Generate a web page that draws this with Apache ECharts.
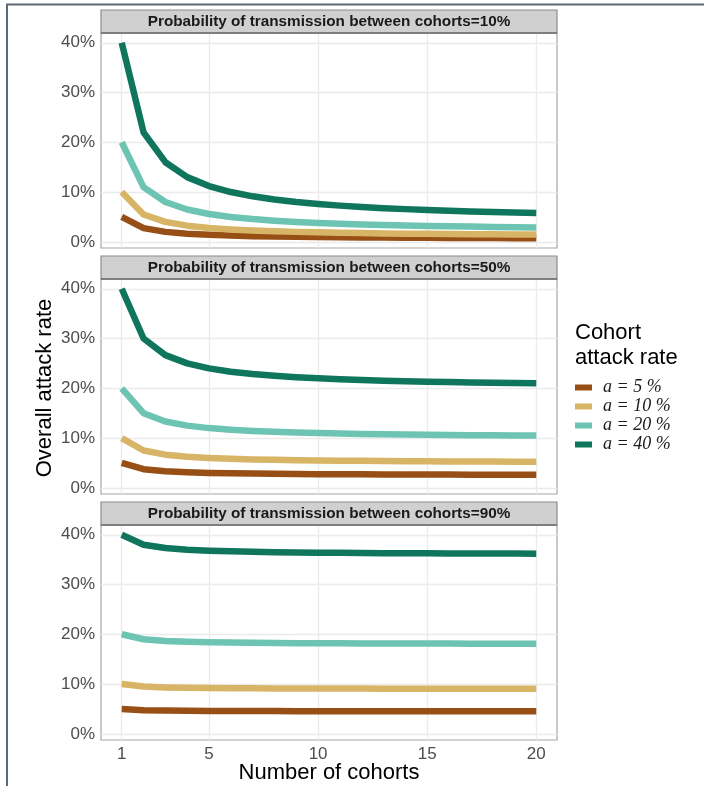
<!DOCTYPE html>
<html>
<head>
<meta charset="utf-8">
<script src="https://cdn.jsdelivr.net/npm/echarts@6/dist/echarts.min.js"></script>
<style>
  html, body { margin: 0; padding: 0; background: #ffffff; }
  #chart { width: 704px; height: 786px; }
</style>
</head>
<body>
<div id="chart"></div>
<script>
// Number of cohorts (x values)
const cohorts = [1, 2, 3, 4, 5, 6, 7, 8, 9, 10, 11, 12, 13, 14, 15, 16, 17, 18, 19, 20];

// Panel titles: probability of transmission between cohorts
const panelTitles = [
  'Probability of transmission between cohorts=10%',
  'Probability of transmission between cohorts=50%',
  'Probability of transmission between cohorts=90%'
];

// Cohort attack rate groups
const groupNames = ['a = 5 %', 'a = 10 %', 'a = 20 %', 'a = 40 %'];
const groupColors = ['#974f16', '#d8b566', '#6ec4b2', '#0f765d'];

// Overall attack rate (%) — transmission between cohorts 10%
const p10_a5  = [5, 2.75, 2, 1.625, 1.4, 1.25, 1.143, 1.063, 1, 0.95, 0.909, 0.875, 0.846, 0.821, 0.8, 0.781, 0.765, 0.75, 0.737, 0.725];
const p10_a10 = [10, 5.5, 4, 3.25, 2.8, 2.5, 2.286, 2.125, 2, 1.9, 1.818, 1.75, 1.692, 1.643, 1.6, 1.563, 1.529, 1.5, 1.474, 1.45];
const p10_a20 = [20, 11, 8, 6.5, 5.6, 5, 4.571, 4.25, 4, 3.8, 3.636, 3.5, 3.385, 3.286, 3.2, 3.125, 3.059, 3, 2.947, 2.9];
const p10_a40 = [40, 22, 16, 13, 11.2, 10, 9.143, 8.5, 8, 7.6, 7.273, 7, 6.769, 6.571, 6.4, 6.25, 6.118, 6, 5.895, 5.8];

// Overall attack rate (%) — transmission between cohorts 50%
const p50_a5  = [5, 3.75, 3.333, 3.125, 3, 2.917, 2.857, 2.813, 2.778, 2.75, 2.727, 2.708, 2.692, 2.679, 2.667, 2.656, 2.647, 2.639, 2.632, 2.625];
const p50_a10 = [10, 7.5, 6.667, 6.25, 6, 5.833, 5.714, 5.625, 5.556, 5.5, 5.455, 5.417, 5.385, 5.357, 5.333, 5.313, 5.294, 5.278, 5.263, 5.25];
const p50_a20 = [20, 15, 13.333, 12.5, 12, 11.667, 11.429, 11.25, 11.111, 11, 10.909, 10.833, 10.769, 10.714, 10.667, 10.625, 10.588, 10.556, 10.526, 10.5];
const p50_a40 = [40, 30, 26.667, 25, 24, 23.333, 22.857, 22.5, 22.222, 22, 21.818, 21.667, 21.538, 21.429, 21.333, 21.25, 21.176, 21.111, 21.053, 21];

// Overall attack rate (%) — transmission between cohorts 90%
const p90_a5  = [5, 4.75, 4.667, 4.625, 4.6, 4.583, 4.571, 4.563, 4.556, 4.55, 4.545, 4.542, 4.538, 4.536, 4.533, 4.531, 4.529, 4.528, 4.526, 4.525];
const p90_a10 = [10, 9.5, 9.333, 9.25, 9.2, 9.167, 9.143, 9.125, 9.111, 9.1, 9.091, 9.083, 9.077, 9.071, 9.067, 9.063, 9.059, 9.056, 9.053, 9.05];
const p90_a20 = [20, 19, 18.667, 18.5, 18.4, 18.333, 18.286, 18.25, 18.222, 18.2, 18.182, 18.167, 18.154, 18.143, 18.133, 18.125, 18.118, 18.111, 18.105, 18.1];
const p90_a40 = [40, 38, 37.333, 37, 36.8, 36.667, 36.571, 36.5, 36.444, 36.4, 36.364, 36.333, 36.308, 36.286, 36.267, 36.25, 36.235, 36.222, 36.211, 36.2];

// Tick positions
const xTicks = [1, 5, 10, 15, 20];
const yTicks = [0, 10, 20, 30, 40];

const panels = [
  [p10_a5, p10_a10, p10_a20, p10_a40],
  [p50_a5, p50_a10, p50_a20, p50_a40],
  [p90_a5, p90_a10, p90_a20, p90_a40]
];

// Panel geometry (pixels)
const panelLeft = 101, panelRight = 557;
const stripTops = [10, 256, 502];
const stripH = 23;
const plotH = 215;

const grids = [], xAxes = [], yAxes = [], series = [], graphics = [];

panels.forEach((panel, i) => {
  const top = stripTops[i] + stripH;
  grids.push({
    left: panelLeft, width: panelRight - panelLeft, top: top, height: plotH,
    show: true, borderColor: '#a6a6a6', borderWidth: 1.2, backgroundColor: 'transparent'
  });
  const isBottom = i === panels.length - 1;
  xAxes.push({
    type: 'value', gridIndex: i, min: 0.05, max: 20.95,
    axisLine: { show: false }, axisTick: { show: false },
    axisLabel: {
      show: isBottom, customValues: xTicks, color: '#4d4d4d', fontSize: 17,
      fontFamily: 'Liberation Sans, Arial, sans-serif', margin: 6
    },
    splitLine: { show: false }
  });
  yAxes.push({
    type: 'value', gridIndex: i, min: -1.24, max: 41.96,
    axisLine: { show: false }, axisTick: { show: false },
    axisLabel: {
      customValues: yTicks, color: '#4d4d4d', fontSize: 17,
      fontFamily: 'Liberation Sans, Arial, sans-serif', margin: 6,
      formatter: v => v + '%'
    },
    splitLine: { show: false }
  });

  // Background grid lines drawn on the panel's own scales
  const gridLineData = yTicks.map(v => ({ yAxis: v }))
    .concat(xTicks.map(v => ({ xAxis: v })));
  series.push({
    type: 'line', xAxisIndex: i, yAxisIndex: i, data: [], silent: true, z: 1,
    markLine: {
      silent: true, symbol: 'none', label: { show: false }, z: 1,
      lineStyle: { color: '#ebebeb', width: 1.3, type: 'solid' },
      emphasis: { disabled: true },
      animation: false, data: gridLineData
    }
  });

  panel.forEach((vals, g) => {
    series.push({
      name: groupNames[g], type: 'line', xAxisIndex: i, yAxisIndex: i,
      data: cohorts.map((c, k) => [c, vals[k]]),
      showSymbol: false, symbol: 'none', z: 3,
      lineStyle: { color: groupColors[g], width: 6.5, cap: 'butt', join: 'round' },
      itemStyle: { color: groupColors[g] },
      animation: false
    });
  });

  // Facet strip
  graphics.push({
    type: 'rect', silent: true, z: 10,
    shape: { x: panelLeft, y: stripTops[i], width: panelRight - panelLeft, height: stripH },
    style: { fill: '#d0d0d0', stroke: '#8c8c8c', lineWidth: 1.2 }
  });
  graphics.push({
    type: 'line', silent: true, z: 11,
    shape: { x1: panelLeft, y1: stripTops[i] + stripH, x2: panelRight, y2: stripTops[i] + stripH },
    style: { stroke: '#6e6e6e', lineWidth: 1.5 }
  });
  graphics.push({
    type: 'text', silent: true, z: 12,
    x: (panelLeft + panelRight) / 2, y: stripTops[i] + stripH / 2 + 0.5,
    style: {
      text: panelTitles[i], fill: '#1a1a1a', font: 'bold 15.3px Liberation Sans, Arial, sans-serif',
      align: 'center', verticalAlign: 'middle'
    }
  });
});

// Axis titles
graphics.push({
  type: 'text', silent: true, x: 45, y: 388, rotation: Math.PI / 2,
  style: {
    text: 'Overall attack rate', fill: '#000', font: '22px Liberation Sans, Arial, sans-serif',
    align: 'center', verticalAlign: 'middle'
  }
});
graphics.push({
  type: 'text', silent: true, x: 329, y: 773,
  style: {
    text: 'Number of cohorts', fill: '#000', font: '22px Liberation Sans, Arial, sans-serif',
    align: 'center', verticalAlign: 'middle'
  }
});

// Legend title
graphics.push({
  type: 'text', silent: true, x: 575, y: 320,
  style: {
    text: 'Cohort\nattack rate', fill: '#000', font: '22px Liberation Sans, Arial, sans-serif',
    lineHeight: 25, align: 'left', verticalAlign: 'top'
  }
});

// Outer frame
graphics.push({
  type: 'polyline', silent: true, z: 20,
  shape: { points: [[7, 786], [7, 4.5], [704, 4.5]] },
  style: { stroke: '#5d6a76', lineWidth: 2, fill: null }
});

const chart = echarts.init(document.getElementById('chart'), null, { renderer: 'canvas' });
chart.setOption({
  animation: false,
  backgroundColor: '#ffffff',
  grid: grids,
  xAxis: xAxes,
  yAxis: yAxes,
  legend: {
    data: groupNames, orient: 'vertical', left: 575, top: 378, padding: 0,
    icon: 'rect', itemWidth: 17, itemHeight: 6, itemGap: 0,
    selectedMode: false,
    textStyle: {
      fontFamily: 'Liberation Serif, Times New Roman, serif', fontStyle: 'italic',
      fontSize: 18, color: '#1a1a1a', lineHeight: 19, padding: [0, 0, 0, 6]
    }
  },
  series: series,
  graphic: graphics
});
</script>
</body>
</html>
